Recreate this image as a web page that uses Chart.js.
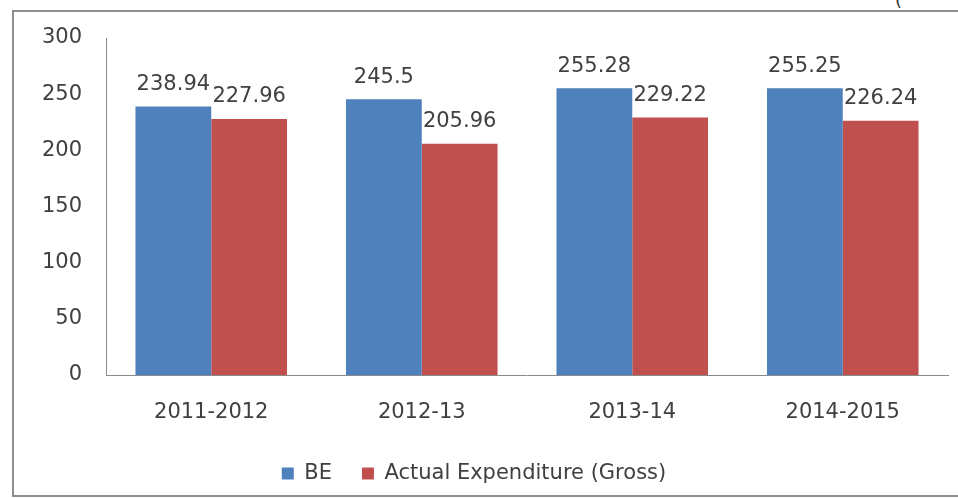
<!DOCTYPE html>
<html>
<head>
<meta charset="utf-8">
<script src="https://cdn.jsdelivr.net/npm/chart.js@4.4.1/dist/chart.umd.min.js"></script>
<style>
  html, body { margin: 0; padding: 0; background: #fff; overflow: hidden; }
  #frame {
    position: absolute; left: 12px; top: 10px; width: 960px; height: 487px;
    border: 2px solid #8e8e8e; box-sizing: border-box;
  }
  #cut {
    position: absolute; left: 895px; top: -11px;
    font: 18px "DejaVu Sans", sans-serif; color: #333;
  }
  #wrap { position: absolute; left: 0; top: 0; width: 958px; height: 498px; }
</style>
</head>
<body>
<div id="frame"></div>
<div id="cut">(</div>
<div id="wrap"><canvas id="budgetChart"></canvas></div>
<script>
// Năm tài chính và số liệu
const years = ['2011-2012', '2012-13', '2013-14', '2014-2015'];
const beValues = [238.94, 245.5, 255.28, 255.25];
const actualValues = [227.96, 205.96, 229.22, 226.24];
const yTicks = [0, 50, 100, 150, 200, 250, 300];

const textColor = '#404040';
const fontFamily = '"DejaVu Sans", sans-serif';

// Ghi giá trị phía trên mỗi cột
const valueLabels = {
    id: 'valueLabels',
    afterDatasetsDraw(chart) {
        const ctx = chart.ctx;
        ctx.save();
        ctx.font = '21px ' + fontFamily;
        ctx.fillStyle = textColor;
        ctx.textAlign = 'center';
        ctx.textBaseline = 'middle';
        chart.data.datasets.forEach((ds, i) => {
            chart.getDatasetMeta(i).data.forEach((bar, j) => {
                ctx.fillText(String(ds.data[j]), bar.x, bar.y - 22);
            });
        });
        ctx.restore();
    }
};

new Chart(document.getElementById('budgetChart').getContext('2d'), {
    type: 'bar',
    data: {
        labels: years,
        datasets: [
            { label: 'BE', data: beValues, backgroundColor: '#4F81BD' },
            { label: 'Actual Expenditure (Gross)', data: actualValues, backgroundColor: '#C0504D' }
        ]
    },
    options: {
        responsive: true,
        maintainAspectRatio: false,
        animation: false,
        layout: { padding: { top: 38, right: 10, bottom: 4, left: 0 } },
        datasets: {
            bar: { categoryPercentage: 0.72, barPercentage: 1.0 }
        },
        plugins: {
            tooltip: { enabled: false },
            legend: {
                position: 'bottom',
                labels: {
                    font: { family: fontFamily, size: 21 },
                    color: textColor,
                    boxWidth: 12,
                    boxHeight: 12,
                    padding: 30
                }
            }
        },
        scales: {
            x: {
                grid: { display: false, drawTicks: false },
                border: { color: '#8a8a8a', width: 1 },
                ticks: {
                    font: { family: fontFamily, size: 21 },
                    color: textColor,
                    padding: 25,
                    maxRotation: 0
                },
                afterFit(scale) { scale.height = 58; }
            },
            y: {
                min: 0,
                max: 300,
                grid: { display: false, drawTicks: false },
                border: { color: '#8a8a8a', width: 1 },
                afterBuildTicks(scale) { scale.ticks = yTicks.map(v => ({ value: v })); },
                ticks: {
                    font: { family: fontFamily, size: 21 },
                    color: textColor,
                    padding: 24
                },
                afterFit(scale) { scale.width = 106; }
            }
        }
    },
    plugins: [valueLabels]
});
</script>
</body>
</html>
